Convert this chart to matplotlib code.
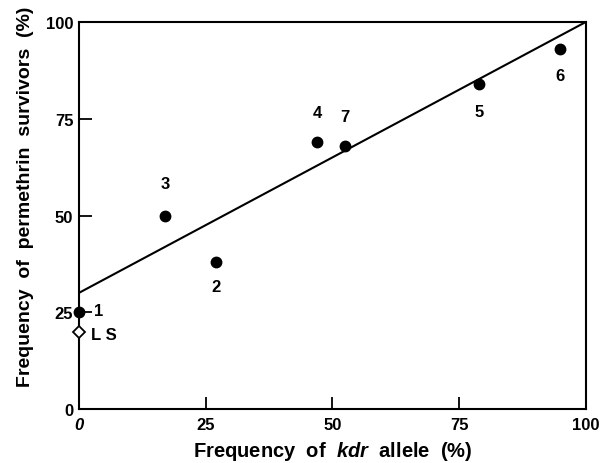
import numpy as np
import matplotlib
matplotlib.use('Agg')
import matplotlib.pyplot as plt

plt.rcParams['font.family'] = 'Liberation Sans'
plt.rcParams['font.weight'] = 'bold'
plt.rcParams['mathtext.fontset'] = 'custom'
plt.rcParams['mathtext.it'] = 'Liberation Sans:italic:bold'

## Data
kdr = [0, 27, 17, 47, 79, 95, 52.5]          # frequency of kdr allele (%)
surv = [25, 38, 50, 69, 84, 93, 68]          # permethrin survivors (%)
labels = ['1', '2', '3', '4', '5', '6', '7']
ls_x, ls_y = 0, 20                           # LS reference strain
fit_x = [0, 100]
fit_y = [30, 100]

# label offsets in points (dx, dy)
offsets = {'1': (14, 1), '2': (0, -18), '3': (0, 23), '4': (0, 21),
           '5': (0, -20), '6': (0, -19), '7': (0, 21)}

fig = plt.figure(figsize=(6.07, 4.64), dpi=100)
ax = fig.add_axes([0.130, 0.1164, 0.835, 0.834])

ax.plot(fit_x, fit_y, color='black', lw=1.5, solid_capstyle='butt', zorder=2)
ax.plot(kdr, surv, 'o', color='black', ms=7.5, zorder=3, clip_on=False)
ax.plot([ls_x], [ls_y], 'D', mfc='white', mec='black', mew=1.3, ms=6,
        zorder=3, clip_on=False)

for x, y, t in zip(kdr, surv, labels):
    dx, dy = offsets[t]
    ax.annotate(t, (x, y), xytext=(dx, dy), textcoords='offset points',
                ha='center', va='center', fontsize=12, fontweight='bold')
ax.annotate('L S', (ls_x, ls_y), xytext=(18, -2), textcoords='offset points',
            ha='center', va='center', fontsize=12, fontweight='bold')

ax.set_xlim(0, 100)
ax.set_ylim(0, 100)
ax.set_xticks([0, 25, 50, 75, 100])
ax.set_xticklabels(['0', '25', '50', '75', '100'])
ax.set_yticks([0, 25, 50, 75, 100])
ax.get_xticklabels()[0].set_style('italic')
for sp in ax.spines.values():
    sp.set_linewidth(1.5)
ax.tick_params(direction='in', length=9, width=1.3, labelsize=12, pad=6)
ax.tick_params(axis='y', pad=4)

ax.set_xlabel('Frequency  of  $kdr$  allele  (%)', fontsize=14.5,
              fontweight='bold', labelpad=5)
ax.set_ylabel('Frequency  of  permethrin  survivors  (%)', fontsize=14,
              fontweight='bold')
ax.yaxis.set_label_coords(-0.088, 0.55)

fig.savefig('out.png', dpi=100)
